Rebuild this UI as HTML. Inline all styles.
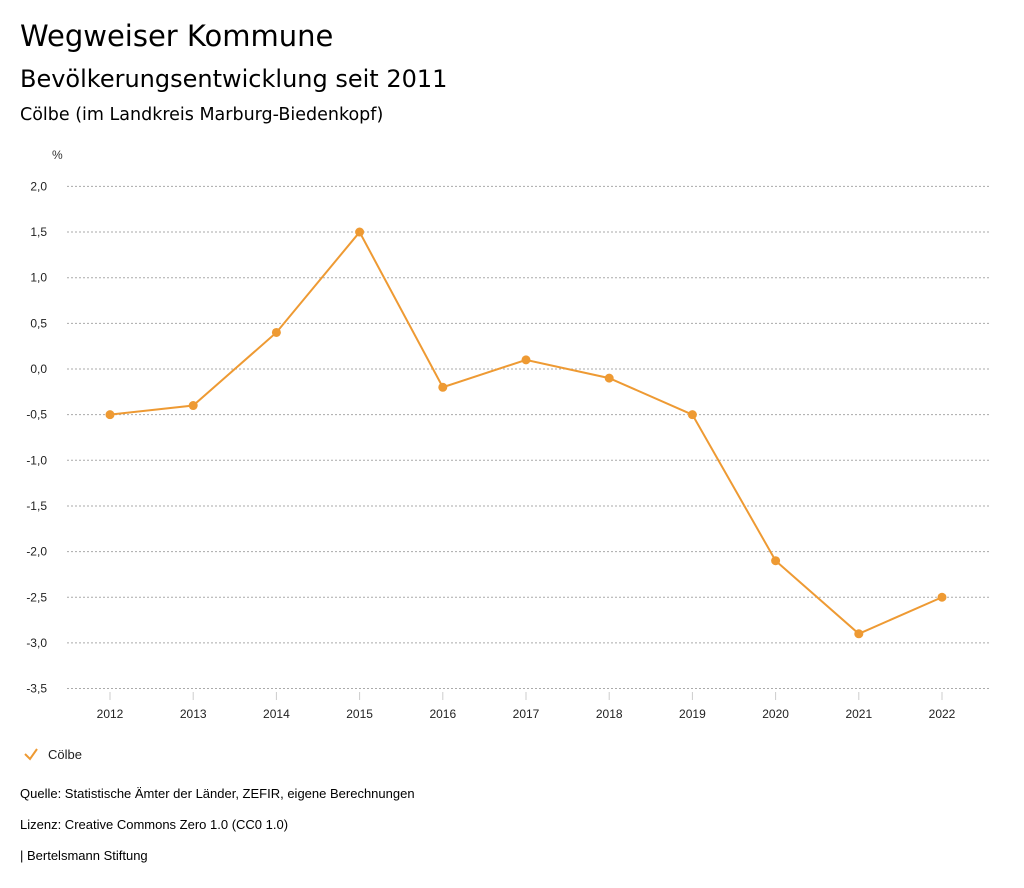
<!DOCTYPE html>
<html><head><meta charset="utf-8"><style>
body{margin:0;width:1024px;height:888px;background:#fff;font-family:"Liberation Sans",sans-serif;color:#000;position:relative;overflow:hidden}
.t{position:absolute;left:20px;white-space:nowrap}
.h{font-family:"DejaVu Sans",sans-serif}
</style></head><body>
<div class="t h" style="top:19px;font-size:29px">Wegweiser Kommune</div>
<div class="t h" style="top:65px;font-size:24px">Bevölkerungsentwicklung seit 2011</div>
<div class="t h" style="top:105px;font-size:17.5px;font-weight:500">Cölbe (im Landkreis Marburg-Biedenkopf)</div>
<svg id="chart" width="1024" height="888" style="position:absolute;left:0;top:0" font-family="Liberation Sans, sans-serif"></svg>
<div class="t" style="top:786px;font-size:13px">Quelle: Statistische Ämter der Länder, ZEFIR, eigene Berechnungen</div>
<div class="t" style="top:817px;font-size:13px">Lizenz: Creative Commons Zero 1.0 (CC0 1.0)</div>
<div class="t" style="top:848px;font-size:13px">| Bertelsmann Stiftung</div>
<script>
const years=['2012','2013','2014','2015','2016','2017','2018','2019','2020','2021','2022'];
const values=[-0.5,-0.4,0.4,1.5,-0.2,0.1,-0.1,-0.5,-2.1,-2.9,-2.5];
const yTicks=[2.0,1.5,1.0,0.5,0.0,-0.5,-1.0,-1.5,-2.0,-2.5,-3.0,-3.5];
const svg=document.getElementById('chart');const NS='http://www.w3.org/2000/svg';
const y=v=>369-(v*91.3);const x=i=>110+i*83.2;
function mk(t,a,p){const e=document.createElementNS(NS,t);for(const k in a)e.setAttribute(k,a[k]);(p||svg).appendChild(e);return e;}
const pct=mk('text',{x:52,y:159,'font-size':12,fill:'#333'});pct.textContent='%';


yTicks.forEach(v=>{const l=mk('line',{x1:67,x2:990,y1:y(v),y2:y(v),stroke:'#aaa','stroke-dasharray':'2,2'});


const t=mk('text',{x:47,y:y(v)+4,'text-anchor':'end','font-size':12,fill:'#222'});t.textContent=v.toFixed(1).replace('.',',');

});
years.forEach((yr,i)=>{const l=mk('line',{x1:x(i),x2:x(i),y1:692,y2:700,stroke:'#ccc'});


const t=mk('text',{x:x(i),y:718,'text-anchor':'middle','font-size':12,fill:'#222'});t.textContent=yr;

});
const pl=mk('polyline',{points:values.map((v,i)=>x(i)+','+y(v)).join(' '),fill:'none',stroke:'#ee9a33','stroke-width':2});


values.forEach((v,i)=>{const c=mk('circle',{cx:x(i),cy:y(v),r:4.5,fill:'#ee9a33'});

});
const g=mk('g',{});


mk('polyline',{points:'25,754 30,759 37,749',fill:'none',stroke:'#ee9a33','stroke-width':2},g);
const lt=mk('text',{x:48,y:759,'font-size':13,fill:'#222'},g);lt.textContent='Cölbe';
</script>
</body></html>
